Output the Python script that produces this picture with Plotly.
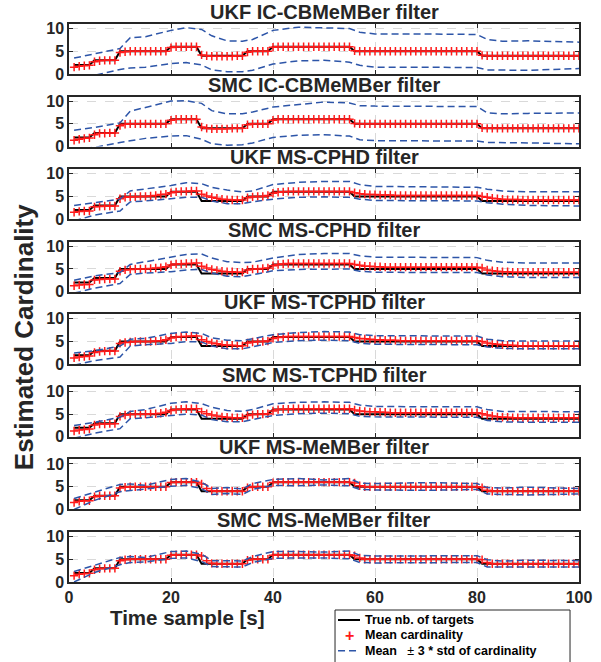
import plotly.graph_objects as go
from plotly.subplots import make_subplots

# time samples
time_k = list(range(1, 101))

# true number of targets
true_card = [2, 2, 2, 2, 3, 3, 3, 3, 3,
             5, 5, 5, 5, 5, 5, 5, 5, 5, 5,
             6, 6, 6, 6, 6, 6,
             4, 4, 4, 4, 4, 4, 4, 4, 4,
             5, 5, 5, 5, 5,
             6, 6, 6, 6, 6, 6, 6, 6, 6, 6, 6, 6, 6, 6, 6, 6,
             5, 5, 5, 5, 5, 5, 5, 5, 5, 5, 5, 5, 5, 5, 5, 5, 5, 5, 5, 5, 5, 5, 5, 5, 5,
             4, 4, 4, 4, 4, 4, 4, 4, 4, 4, 4, 4, 4, 4, 4, 4, 4, 4, 4, 4]

filter_names = ["UKF IC-CBMeMBer filter", "SMC IC-CBMeMBer filter",
                "UKF MS-CPHD filter", "SMC MS-CPHD filter",
                "UKF MS-TCPHD filter", "SMC MS-TCPHD filter",
                "UKF MS-MeMBer filter", "SMC MS-MeMBer filter"]

legend_labels = ["True nb. of targets", "Mean cardinality",
                 "Mean  \u00b1 3 * std of cardinality"]

# mean cardinality, one value per time sample
mean_ukf_cb = [1.5, 1.7, 1.8, 1.9, 2.7, 2.9, 3.0, 3.0, 3.0,
               4.7, 4.9, 5.0, 5.0, 5.0, 5.0, 5.0, 5.0, 5.0, 5.0,
               5.8, 6.0, 6.0, 6.0, 6.0, 6.0,
               4.2, 4.0, 3.9, 3.9, 3.9, 3.9, 3.9, 4.0, 4.0,
               4.8, 5.0, 5.0, 5.0, 5.0,
               5.9, 6.0, 6.0, 6.0, 6.0, 6.0, 6.0, 6.0, 6.0, 6.0, 6.0, 6.0, 6.0, 6.0, 6.0, 6.0,
               5.1, 5.0, 5.0, 5.0, 5.0, 5.0, 5.0, 5.0, 5.0, 5.0, 5.0, 5.0, 5.0, 5.0, 5.0, 5.0, 5.0, 5.0, 5.0, 5.0, 5.0, 5.0, 5.0, 5.0, 5.0,
               4.1, 4.0, 4.0, 4.0, 4.0, 4.0, 4.0, 4.0, 4.0, 4.0, 4.0, 4.0, 4.0, 4.0, 4.0, 4.0, 4.0, 4.0, 4.0, 4.0]
mean_smc_cb = [1.4, 1.6, 1.8, 1.9, 2.6, 2.9, 2.9, 3.0, 3.0,
               4.6, 4.9, 5.0, 5.0, 5.0, 5.0, 5.0, 5.0, 5.0, 5.0,
               5.8, 6.0, 6.0, 6.0, 6.0, 6.0,
               4.3, 4.0, 3.9, 3.9, 3.9, 3.9, 4.0, 4.0, 4.0,
               4.8, 5.0, 5.0, 5.0, 5.0,
               5.8, 6.0, 6.0, 6.0, 6.0, 6.0, 6.0, 6.0, 6.0, 6.0, 6.0, 6.0, 6.0, 6.0, 6.0, 6.0,
               5.1, 5.0, 5.0, 5.0, 5.0, 5.0, 5.0, 5.0, 5.0, 5.0, 5.0, 5.0, 5.0, 5.0, 5.0, 5.0, 5.0, 5.0, 5.0, 5.0, 5.0, 5.0, 5.0, 5.0, 5.0,
               4.1, 4.0, 4.0, 4.0, 4.0, 4.0, 4.0, 4.0, 4.0, 4.0, 4.0, 4.0, 4.0, 4.0, 4.0, 4.0, 4.0, 4.0, 4.0, 4.0]
mean_ukf_cphd = [1.5, 1.7, 1.8, 1.8, 2.7, 2.8, 2.9, 2.9, 2.9,
                 4.5, 4.8, 4.9, 4.9, 5.0, 5.0, 5.1, 5.2, 5.4, 5.5,
                 5.8, 6.0, 6.1, 6.1, 6.2, 6.2,
                 5.5, 5.1, 4.8, 4.6, 4.4, 4.3, 4.2, 4.2, 4.2,
                 4.7, 4.9, 5.0, 5.0, 5.2,
                 5.7, 5.9, 6.0, 6.1, 6.1, 6.1, 6.1, 6.1, 6.1, 6.1, 6.1, 6.1, 6.1, 6.1, 6.1, 6.1,
                 5.8, 5.6, 5.5, 5.4, 5.4, 5.3, 5.3, 5.3, 5.2, 5.2, 5.2, 5.2, 5.2, 5.2, 5.2, 5.2, 5.2, 5.2, 5.2, 5.2, 5.2, 5.2, 5.2, 5.2, 5.2,
                 5.0, 4.8, 4.6, 4.5, 4.4, 4.3, 4.3, 4.3, 4.2, 4.2, 4.2, 4.2, 4.2, 4.2, 4.2, 4.2, 4.2, 4.2, 4.2, 4.2]
mean_smc_cphd = [1.3, 1.5, 1.6, 1.6, 2.6, 2.7, 2.8, 2.8, 2.8,
                 4.5, 4.8, 4.9, 5.0, 5.0, 5.0, 5.1, 5.2, 5.3, 5.5,
                 5.9, 6.1, 6.1, 6.2, 6.2, 6.3,
                 5.6, 5.2, 4.9, 4.7, 4.5, 4.4, 4.4, 4.3, 4.3,
                 4.8, 5.0, 5.0, 5.1, 5.2,
                 5.7, 6.0, 6.1, 6.2, 6.2, 6.2, 6.2, 6.2, 6.2, 6.2, 6.2, 6.2, 6.2, 6.2, 6.2, 6.2,
                 6.0, 5.8, 5.6, 5.6, 5.5, 5.5, 5.4, 5.4, 5.4, 5.4, 5.4, 5.4, 5.4, 5.4, 5.4, 5.4, 5.4, 5.4, 5.4, 5.4, 5.4, 5.4, 5.4, 5.4, 5.4,
                 5.2, 4.8, 4.6, 4.5, 4.4, 4.4, 4.3, 4.3, 4.3, 4.3, 4.3, 4.3, 4.3, 4.3, 4.3, 4.3, 4.3, 4.3, 4.3, 4.3]
mean_ukf_tcphd = [1.4, 1.6, 1.7, 1.8, 2.6, 2.8, 2.9, 2.9, 2.9,
                  4.6, 4.8, 4.9, 5.0, 5.0, 5.0, 5.0, 5.1, 5.2, 5.4,
                  5.8, 6.0, 6.1, 6.1, 6.2, 6.2,
                  5.4, 5.0, 4.7, 4.5, 4.3, 4.2, 4.2, 4.1, 4.1,
                  4.7, 4.9, 5.0, 5.0, 5.1,
                  5.7, 5.9, 6.0, 6.1, 6.1, 6.1, 6.1, 6.1, 6.1, 6.1, 6.1, 6.1, 6.1, 6.1, 6.1, 6.1,
                  5.9, 5.7, 5.6, 5.5, 5.4, 5.4, 5.3, 5.3, 5.3, 5.2, 5.2, 5.2, 5.2, 5.2, 5.2, 5.2, 5.2, 5.2, 5.2, 5.2, 5.2, 5.2, 5.2, 5.2, 5.2,
                  5.0, 4.7, 4.5, 4.4, 4.3, 4.2, 4.2, 4.1, 4.1, 4.1, 4.1, 4.1, 4.1, 4.1, 4.1, 4.1, 4.1, 4.1, 4.1, 4.1]
mean_smc_tcphd = [1.3, 1.5, 1.6, 1.7, 2.6, 2.8, 2.8, 2.9, 2.9,
                  4.5, 4.8, 4.9, 5.0, 5.0, 5.0, 5.1, 5.1, 5.2, 5.4,
                  5.8, 6.0, 6.1, 6.2, 6.2, 6.2,
                  5.5, 5.1, 4.8, 4.6, 4.4, 4.3, 4.2, 4.2, 4.2,
                  4.7, 4.9, 5.0, 5.0, 5.1,
                  5.7, 6.0, 6.1, 6.1, 6.2, 6.2, 6.2, 6.2, 6.2, 6.2, 6.2, 6.2, 6.2, 6.2, 6.2, 6.2,
                  5.9, 5.7, 5.6, 5.5, 5.5, 5.4, 5.4, 5.3, 5.3, 5.3, 5.3, 5.3, 5.3, 5.3, 5.3, 5.3, 5.3, 5.3, 5.3, 5.3, 5.3, 5.3, 5.3, 5.3, 5.3,
                  5.1, 4.8, 4.6, 4.4, 4.3, 4.3, 4.2, 4.2, 4.2, 4.2, 4.2, 4.2, 4.2, 4.2, 4.2, 4.2, 4.2, 4.2, 4.2, 4.2]
mean_ukf_mb = [1.5, 1.8, 1.9, 1.9, 2.8, 3.0, 3.0, 3.0, 3.0,
               4.7, 4.9, 5.0, 5.0, 5.0, 5.0, 5.0, 5.0, 5.0, 5.0,
               5.9, 6.0, 6.0, 6.0, 6.0, 6.0,
               5.6, 4.6, 4.1, 4.0, 4.0, 4.0, 4.0, 4.0, 4.0,
               4.8, 5.0, 5.0, 5.0, 5.0,
               5.9, 6.0, 6.0, 6.0, 6.0, 6.0, 6.0, 6.0, 6.0, 6.0, 6.0, 6.0, 6.0, 6.0, 6.0, 6.0,
               5.8, 5.2, 5.0, 5.0, 5.0, 5.0, 5.0, 5.0, 5.0, 5.0, 5.0, 5.0, 5.0, 5.0, 5.0, 5.0, 5.0, 5.0, 5.0, 5.0, 5.0, 5.0, 5.0, 5.0, 5.0,
               4.8, 4.2, 4.0, 4.0, 4.0, 4.0, 4.0, 4.0, 4.0, 4.0, 4.0, 4.0, 4.0, 4.0, 4.0, 4.0, 4.0, 4.0, 4.0, 4.0]
mean_smc_mb = [1.4, 1.7, 1.8, 1.9, 2.7, 2.9, 3.0, 3.0, 3.0,
               4.7, 4.9, 5.0, 5.0, 5.0, 5.0, 5.0, 5.0, 5.0, 5.0,
               5.9, 6.0, 6.0, 6.0, 6.0, 6.0,
               5.7, 4.7, 4.1, 4.0, 4.0, 4.0, 4.0, 4.0, 4.0,
               4.8, 5.0, 5.0, 5.0, 5.0,
               5.9, 6.0, 6.0, 6.0, 6.0, 6.0, 6.0, 6.0, 6.0, 6.0, 6.0, 6.0, 6.0, 6.0, 6.0, 6.0,
               5.8, 5.3, 5.0, 5.0, 5.0, 5.0, 5.0, 5.0, 5.0, 5.0, 5.0, 5.0, 5.0, 5.0, 5.0, 5.0, 5.0, 5.0, 5.0, 5.0, 5.0, 5.0, 5.0, 5.0, 5.0,
               4.9, 4.3, 4.0, 4.0, 4.0, 4.0, 4.0, 4.0, 4.0, 4.0, 4.0, 4.0, 4.0, 4.0, 4.0, 4.0, 4.0, 4.0, 4.0, 4.0]

# mean +/- 3 std, read at these time samples
bound_k = [1, 5, 10, 12, 15, 20, 23, 26, 28, 31, 34, 36, 40, 45, 50, 55, 57, 60, 70, 80, 82, 85, 90, 100]

upper_ukf_cb = [3.5, 4.5, 5.6, 8.0, 8.2, 9.6, 10.2, 9.8, 8.4, 7.3, 7.2, 7.6, 9.6, 10.3, 10.1, 10.0, 9.2, 8.8, 8.8, 8.7, 7.6, 7.2, 7.3, 7.0]
lower_ukf_cb = [-0.5, -0.3, 1.0, 1.3, 1.5, 2.3, 2.5, 2.0, 0.9, 0.5, 0.5, 0.8, 2.2, 2.9, 3.0, 2.6, 1.9, 1.5, 1.5, 1.4, 0.9, 0.8, 0.8, 1.2]
upper_smc_cb = [3.6, 4.2, 5.2, 7.8, 8.6, 10.0, 10.1, 9.5, 7.9, 7.2, 7.2, 7.6, 8.7, 9.3, 9.8, 9.6, 9.0, 8.9, 8.9, 8.8, 7.4, 7.2, 7.3, 7.4]
lower_smc_cb = [-0.5, -0.2, 0.9, 1.2, 1.8, 2.3, 2.4, 1.6, 0.6, 0.3, 0.4, 0.8, 2.0, 2.5, 2.6, 2.3, 1.5, 1.3, 1.2, 1.2, 0.9, 0.8, 0.8, 0.6]
upper_ukf_cphd = [3.0, 3.6, 4.4, 6.2, 6.6, 7.4, 8.0, 7.8, 7.0, 6.4, 6.0, 6.2, 7.6, 8.1, 8.3, 8.3, 7.6, 7.2, 7.1, 7.0, 6.6, 6.2, 6.0, 6.0]
lower_ukf_cphd = [-0.4, 0.9, 1.8, 3.8, 4.0, 4.4, 4.8, 4.8, 4.0, 3.4, 3.4, 3.8, 4.4, 4.8, 4.9, 4.8, 4.4, 4.1, 4.1, 4.0, 3.6, 3.3, 3.0, 2.9]
upper_smc_cphd = [2.5, 3.5, 4.2, 6.0, 6.6, 7.6, 8.2, 8.3, 7.4, 6.6, 6.4, 6.5, 7.4, 8.2, 8.4, 8.4, 7.9, 7.6, 7.5, 7.5, 6.9, 6.5, 6.3, 6.3]
lower_smc_cphd = [-0.3, 0.8, 1.8, 3.8, 4.1, 4.4, 4.8, 4.9, 4.1, 3.4, 3.3, 3.7, 4.6, 4.9, 5.0, 5.0, 4.5, 4.3, 4.2, 4.2, 3.7, 3.3, 3.1, 3.1]
upper_ukf_tcphd = [2.5, 3.0, 4.0, 5.5, 5.7, 6.8, 7.1, 6.8, 5.8, 5.3, 5.2, 5.6, 6.5, 7.0, 7.2, 7.1, 6.5, 6.3, 6.2, 6.2, 5.5, 5.2, 5.1, 5.1]
lower_ukf_tcphd = [-0.2, 0.8, 1.6, 4.0, 4.3, 4.6, 5.0, 4.9, 4.0, 3.4, 3.4, 3.9, 4.8, 5.2, 5.3, 5.2, 4.6, 4.4, 4.4, 4.3, 3.8, 3.5, 3.4, 3.4]
upper_smc_tcphd = [2.5, 3.2, 4.3, 5.6, 6.0, 7.4, 7.7, 7.3, 6.5, 5.8, 5.6, 6.0, 7.3, 7.6, 7.7, 7.6, 7.0, 6.7, 6.6, 6.6, 6.0, 5.6, 5.6, 5.5]
lower_smc_tcphd = [-0.3, 0.8, 1.8, 4.0, 4.2, 4.6, 5.0, 4.8, 3.8, 3.3, 3.3, 3.8, 4.7, 5.1, 5.2, 5.1, 4.5, 4.4, 4.3, 4.3, 3.6, 3.3, 3.2, 3.2]
upper_ukf_mb = [2.4, 3.8, 5.5, 5.6, 5.3, 6.6, 6.8, 6.0, 4.6, 4.8, 4.5, 5.7, 6.6, 6.8, 6.5, 6.8, 5.8, 5.7, 5.9, 5.7, 4.8, 4.7, 4.9, 4.6]
lower_ukf_mb = [0.0, 2.0, 3.9, 4.2, 4.5, 5.1, 5.3, 4.6, 3.3, 3.5, 3.3, 4.4, 5.3, 5.2, 5.4, 5.2, 4.4, 4.3, 4.2, 4.4, 3.4, 3.3, 3.2, 3.4]
upper_smc_mb = [2.3, 3.7, 5.4, 5.6, 5.4, 6.7, 6.8, 6.1, 4.7, 4.7, 4.6, 5.6, 6.7, 6.7, 6.6, 6.8, 5.9, 5.7, 5.8, 5.8, 4.9, 4.6, 4.8, 4.7]
lower_smc_mb = [0.0, 2.1, 3.8, 4.3, 4.4, 5.2, 5.3, 4.5, 3.4, 3.4, 3.3, 4.3, 5.2, 5.3, 5.3, 5.1, 4.3, 4.2, 4.3, 4.3, 3.3, 3.3, 3.3, 3.3]

means = [mean_ukf_cb, mean_smc_cb, mean_ukf_cphd, mean_smc_cphd,
         mean_ukf_tcphd, mean_smc_tcphd, mean_ukf_mb, mean_smc_mb]
uppers = [upper_ukf_cb, upper_smc_cb, upper_ukf_cphd, upper_smc_cphd,
          upper_ukf_tcphd, upper_smc_tcphd, upper_ukf_mb, upper_smc_mb]
lowers = [lower_ukf_cb, lower_smc_cb, lower_ukf_cphd, lower_smc_cphd,
          lower_ukf_tcphd, lower_smc_tcphd, lower_ukf_mb, lower_smc_mb]

FONT = "Liberation Sans, Arial, Helvetica, sans-serif"
BLUE = "#2d55a8"
RED = "#ff1a1a"
AXC = "#262626"
DASH = "7px,4px"

fig = make_subplots(rows=8, cols=1, vertical_spacing=0.0405,
                    subplot_titles=["<b>%s</b>" % n for n in filter_names])

for i in range(8):
    fig.add_trace(go.Scatter(x=time_k, y=true_card, mode="lines",
                             line=dict(color="black", width=2),
                             name=legend_labels[0], showlegend=False),
                  row=i + 1, col=1)
    fig.add_trace(go.Scatter(x=time_k, y=means[i], mode="markers",
                             marker=dict(symbol="cross-thin", size=6,
                                         line=dict(color=RED, width=1.5)),
                             name=legend_labels[1], showlegend=False),
                  row=i + 1, col=1)
    fig.add_trace(go.Scatter(x=bound_k, y=uppers[i], mode="lines",
                             line=dict(color=BLUE, width=1.5, dash=DASH),
                             name=legend_labels[2], showlegend=False),
                  row=i + 1, col=1)
    fig.add_trace(go.Scatter(x=bound_k, y=lowers[i], mode="lines",
                             line=dict(color=BLUE, width=1.5, dash=DASH),
                             name=legend_labels[2], showlegend=False),
                  row=i + 1, col=1)

    axis_style = dict(ticks="inside", ticklen=4, tickcolor=AXC,
                      mirror="allticks", showline=True, linecolor=AXC,
                      linewidth=1.5, showgrid=True, gridcolor="#d9d9d9",
                      griddash="dash", gridwidth=1, zeroline=False,
                      tickfont=dict(family=FONT, size=16, color=AXC, weight="bold"))
    fig.update_xaxes(range=[0, 100], tickvals=[0, 20, 40, 60, 80, 100],
                     showticklabels=(i == 7), row=i + 1, col=1, **axis_style)
    fig.update_yaxes(range=[0, 11], tickvals=[0, 5, 10],
                     row=i + 1, col=1, **axis_style)

for ann in fig.layout.annotations:
    ann.font = dict(family=FONT, size=20, color=AXC)
    ann.yshift = -1

fig.add_annotation(text="<b>Estimated Cardinality</b>", textangle=-90,
                   xref="paper", yref="paper", x=-0.088, y=0.439,
                   showarrow=False, xanchor="center", yanchor="middle",
                   font=dict(family=FONT, size=26, color=AXC))
fig.add_annotation(text="<b>Time sample [s]</b>",
                   xref="paper", yref="paper", x=0.233, y=-0.063,
                   showarrow=False, xanchor="center", yanchor="middle",
                   font=dict(family=FONT, size=20.5, color=AXC))

# legend box, drawn by hand to keep MATLAB's tight row spacing
leg_x0, leg_x1 = 0.5216, 0.9824
leg_top, leg_bottom = -0.0502, -0.16
row_y = [-0.0681, -0.0955, -0.1231]
sym_x0, sym_x1, txt_x = 0.5275, 0.5706, 0.5765

fig.add_shape(type="rect", xref="paper", yref="paper",
              x0=leg_x0, x1=leg_x1, y0=leg_bottom, y1=leg_top,
              line=dict(color=AXC, width=1), fillcolor="white", layer="above")
fig.add_shape(type="line", xref="paper", yref="paper",
              x0=sym_x0, x1=sym_x1, y0=row_y[0], y1=row_y[0],
              line=dict(color="black", width=2))
fig.add_annotation(text="+", xref="paper", yref="paper",
                   x=(sym_x0 + sym_x1) / 2, y=row_y[1], showarrow=False,
                   xanchor="center", yanchor="middle",
                   font=dict(family=FONT, size=16, color=RED, weight="bold"))
fig.add_shape(type="line", xref="paper", yref="paper",
              x0=sym_x0, x1=sym_x1, y0=row_y[2], y1=row_y[2],
              line=dict(color=BLUE, width=1.5, dash=DASH))
leg_texts = ["<b>True nb. of targets</b>", "<b>Mean cardinality</b>",
             "<b>Mean</b>   \u00b1 <b>3 * std of cardinality</b>"]
for txt, yy in zip(leg_texts, row_y):
    fig.add_annotation(text=txt, xref="paper", yref="paper", x=txt_x, y=yy,
                       showarrow=False, xanchor="left", yanchor="middle",
                       font=dict(family=FONT, size=12.5, color="black"))

fig.update_layout(
    width=601, height=662,
    margin=dict(l=69, r=22, t=24, b=80, autoexpand=False),
    plot_bgcolor="white", paper_bgcolor="white",
    font=dict(family=FONT, color=AXC),
    showlegend=False,
)

# drop the page's default body margin so the figure sits at the window corner
fig.write_html("out.html", config={"displayModeBar": False},
               post_script="document.body.style.margin='0';")
